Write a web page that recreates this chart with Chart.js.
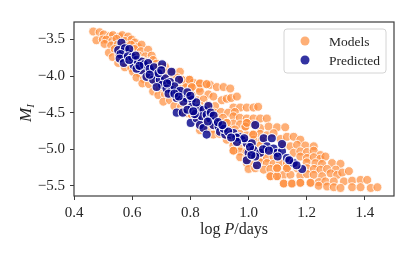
<!DOCTYPE html>
<html>
<head>
<meta charset="utf-8">
<script src="https://cdn.jsdelivr.net/npm/chart.js@4/dist/chart.umd.min.js"></script>
<style>
  html, body { margin: 0; padding: 0; background: #fff; }
  #wrap { width: 416px; height: 257px; }
</style>
</head>
<body>
<div id="wrap"><canvas id="chart" width="416" height="257"></canvas></div>
<script>
/* ── Data ──────────────────────────────────────────────────── */

const xTicks = [0.4, 0.6, 0.8, 1.0, 1.2, 1.4];
const yTicks = [-3.5, -4.0, -4.5, -5.0, -5.5];

// Models grid, roughly row by row from top-left to bottom-right
const modelsLogP = [
  0.466, 0.488,
  0.502, 0.524, 0.534, 0.556, 0.566, 0.586,
  0.477, 0.499, 0.511, 0.532, 0.546, 0.575, 0.598, 0.609,
  0.505, 0.528, 0.550, 0.573, 0.596, 0.620, 0.632,
  0.520, 0.540, 0.563, 0.586, 0.608, 0.630, 0.655,
  0.533, 0.555, 0.577, 0.600, 0.622, 0.645, 0.667,
  0.552, 0.567, 0.590, 0.612, 0.635, 0.658, 0.672, 0.684,
  0.575, 0.597, 0.620, 0.643, 0.666, 0.690, 0.713,
  0.603, 0.625, 0.648, 0.670, 0.694, 0.716, 0.740, 0.764,
  0.615, 0.640, 0.663, 0.686, 0.709, 0.732, 0.755, 0.770, 0.797,
  0.635, 0.658, 0.680, 0.703, 0.726, 0.749, 0.778, 0.810, 0.833, 0.856, 0.868,
  0.672, 0.695, 0.718, 0.740, 0.763, 0.785, 0.805, 0.830, 0.891, 0.914, 0.937,
  0.690, 0.713, 0.736, 0.758, 0.780, 0.805, 0.833, 0.862, 0.879,
  0.707, 0.730, 0.753, 0.776, 0.800, 0.823, 0.845, 0.908, 0.925, 0.940, 0.960,
  0.745, 0.768, 0.790, 0.813, 0.836, 0.860, 0.885, 0.948, 0.971, 0.994, 1.017, 1.033,
  0.770, 0.792, 0.815, 0.838, 0.860, 0.883, 0.905, 0.930, 0.953,
  0.805, 0.820, 0.843, 0.866, 0.889, 0.912, 0.948, 0.970, 0.994, 1.017, 1.040, 1.063,
  0.833, 0.856, 0.879, 0.902, 0.925, 0.948, 0.971, 0.994, 1.017,
  0.833, 0.860, 0.883, 0.906, 0.930, 0.953, 0.989, 1.040, 1.069, 1.098, 1.126,
  0.879, 0.900, 0.923, 0.946, 0.970, 0.993, 1.016, 1.040, 1.063, 1.086,
  0.925, 0.948, 0.970, 0.994, 1.017, 1.045, 1.110, 1.132, 1.155, 1.178,
  0.948, 0.971, 0.994, 1.017, 1.040, 1.120, 1.144, 1.167, 1.195, 1.224,
  0.948, 0.970, 0.993, 1.016, 1.040, 1.063, 1.155, 1.178, 1.201, 1.224, 1.247,
  0.971, 0.994, 1.017, 1.040, 1.063, 1.086, 1.178, 1.201, 1.224, 1.247, 1.264,
  0.994, 1.017, 1.040, 1.063, 1.086, 1.109, 1.132, 1.200, 1.230, 1.253, 1.287, 1.316,
  1.000, 1.023, 1.052, 1.075, 1.098, 1.132, 1.167, 1.201, 1.225, 1.247, 1.270, 1.300,
  1.075, 1.098, 1.121, 1.144, 1.178, 1.201, 1.224, 1.253, 1.282, 1.305, 1.322, 1.345,
  1.121, 1.149, 1.178, 1.213, 1.241, 1.264, 1.293, 1.328, 1.356, 1.385, 1.408,
  1.241, 1.270, 1.293, 1.316, 1.356, 1.385, 1.420, 1.443,
  // repeated models (show darker)
  1.121, 1.149, 1.178, 1.213, 1.075, 1.098, 0.770, 0.797, 0.833, 0.805,
  0.989, 0.925, 0.994, 0.948, 1.132, 1.098, 0.856, 1.016
];
const modelsMI = [
  -3.39, -3.40,
  -3.43, -3.45, -3.44, -3.46, -3.44, -3.46,
  -3.51, -3.50, -3.50, -3.52, -3.49, -3.52, -3.50, -3.54,
  -3.56, -3.58, -3.57, -3.58, -3.57, -3.60, -3.57,
  -3.68, -3.63, -3.64, -3.65, -3.63, -3.66, -3.64,
  -3.74, -3.72, -3.73, -3.71, -3.72, -3.73, -3.72,
  -3.82, -3.79, -3.80, -3.81, -3.79, -3.80, -3.78, -3.83,
  -3.88, -3.89, -3.87, -3.88, -3.89, -3.87, -3.87,
  -3.94, -3.96, -3.95, -3.94, -3.96, -3.95, -3.95, -3.94,
  -4.02, -4.04, -4.03, -4.02, -4.04, -4.03, -4.02, -4.05, -4.05,
  -4.10, -4.11, -4.09, -4.11, -4.10, -4.11, -4.10, -4.09, -4.10, -4.11, -4.12,
  -4.21, -4.17, -4.18, -4.16, -4.17, -4.15, -4.15, -4.17, -4.15, -4.15, -4.17,
  -4.26, -4.25, -4.24, -4.26, -4.24, -4.26, -4.21, -4.25, -4.28,
  -4.35, -4.33, -4.32, -4.34, -4.32, -4.33, -4.32, -4.33, -4.31, -4.30, -4.28,
  -4.41, -4.42, -4.40, -4.42, -4.41, -4.40, -4.41, -4.43, -4.43, -4.43, -4.43, -4.42,
  -4.49, -4.51, -4.50, -4.49, -4.51, -4.50, -4.49, -4.50, -4.49,
  -4.53, -4.58, -4.57, -4.58, -4.56, -4.57, -4.55, -4.57, -4.58, -4.58, -4.58, -4.58,
  -4.66, -4.64, -4.65, -4.66, -4.64, -4.65, -4.66, -4.64, -4.66,
  -4.74, -4.72, -4.73, -4.71, -4.72, -4.73, -4.69, -4.71, -4.69, -4.70, -4.70,
  -4.80, -4.79, -4.81, -4.80, -4.79, -4.81, -4.80, -4.79, -4.81, -4.78,
  -4.87, -4.88, -4.86, -4.88, -4.87, -4.88, -4.86, -4.83, -4.83, -4.87,
  -4.95, -4.96, -4.94, -4.96, -4.95, -4.95, -4.96, -4.94, -4.95, -4.96,
  -5.02, -5.03, -5.04, -5.02, -5.03, -5.04, -5.05, -5.03, -5.04, -5.02, -5.08,
  -5.11, -5.12, -5.10, -5.11, -5.12, -5.10, -5.10, -5.12, -5.11, -5.13, -5.10,
  -5.19, -5.20, -5.18, -5.19, -5.20, -5.18, -5.19, -5.18, -5.19, -5.20, -5.19, -5.20,
  -5.27, -5.26, -5.28, -5.27, -5.26, -5.26, -5.26, -5.26, -5.27, -5.28, -5.27, -5.28,
  -5.37, -5.37, -5.35, -5.35, -5.36, -5.34, -5.35, -5.37, -5.33, -5.35, -5.32, -5.30,
  -5.47, -5.47, -5.46, -5.46, -5.45, -5.44, -5.44, -5.44, -5.43, -5.42, -5.42,
  -5.50, -5.51, -5.52, -5.53, -5.52, -5.52, -5.53, -5.52,
  -5.47, -5.47, -5.46, -5.46, -5.37, -5.37, -4.05, -4.05, -4.10, -4.15,
  -4.69, -4.64, -4.64, -5.02, -5.26, -5.26, -4.11, -4.80
];

const predLogP = [
  0.563, 0.552, 0.569, 0.586, 0.575, 0.590, 0.560, 0.580, 0.598, 0.557,
  0.571, 0.585, 0.600, 0.605, 0.621, 0.615, 0.632, 0.649, 0.632, 0.615,
  0.640, 0.655, 0.667, 0.684, 0.649, 0.660, 0.675, 0.703, 0.672, 0.695,
  0.713, 0.690, 0.700, 0.730, 0.703, 0.684, 0.718, 0.735, 0.753, 0.770,
  0.735, 0.761, 0.745, 0.725, 0.787, 0.805, 0.753, 0.776, 0.765, 0.790,
  0.805, 0.828, 0.845, 0.862, 0.820, 0.800, 0.753, 0.774, 0.801, 0.822,
  0.839, 0.856, 0.868, 0.885, 0.833, 0.845, 0.856, 0.879, 0.897, 0.902,
  0.920, 0.937, 0.948, 0.966, 0.977, 0.994, 1.011, 1.023, 1.000, 1.017,
  0.994, 1.029, 1.052, 1.080, 1.063, 1.086, 1.098, 1.115, 1.115, 1.132,
  1.155, 1.184, 1.040, 1.023, 0.915, 0.930, 0.958, 0.985, 0.870, 0.880,
  0.895, 0.910, 0.860, 0.815, 0.790, 0.810, 1.005, 1.050, 1.070, 1.010,
  1.100, 1.140, 1.165, 0.960, 0.940, 0.720, 0.745, 0.760, 0.660, 0.625,
  0.590, 0.612
];
const predMI = [
  -3.545, -3.645, -3.67, -3.69, -3.62, -3.63, -3.70, -3.76, -3.80, -3.76,
  -3.82, -3.73, -3.74, -3.85, -3.83, -3.78, -3.80, -3.87, -3.92, -3.90,
  -3.84, -3.82, -3.94, -3.99, -4.01, -3.90, -3.88, -3.84, -4.05, -4.05,
  -4.03, -3.96, -3.92, -4.08, -4.12, -4.15, -4.17, -4.19, -4.21, -4.26,
  -3.94, -4.05, -4.14, -4.24, -4.30, -4.32, -4.30, -4.35, -4.20, -4.22,
  -4.42, -4.44, -4.46, -4.41, -4.36, -4.27, -4.50, -4.50, -4.64, -4.58,
  -4.55, -4.53, -4.58, -4.62, -4.67, -4.71, -4.80, -4.67, -4.69, -4.76,
  -4.80, -4.80, -4.78, -4.83, -4.87, -4.92, -4.92, -4.67, -5.05, -5.01,
  -5.15, -5.22, -4.85, -4.85, -4.96, -4.99, -5.05, -5.03, -4.93, -5.12,
  -5.19, -5.27, -5.05, -5.10, -4.72, -4.76, -4.84, -4.85, -4.50, -4.54,
  -4.63, -4.67, -4.62, -4.52, -4.46, -4.48, -4.97, -5.00, -5.02, -5.08,
  -5.10, -5.15, -5.22, -4.90, -4.84, -4.10, -4.24, -4.28, -3.98, -3.86,
  -3.78, -3.72
];

/* ── Helpers ────────────────────────────────────────────────── */

const SERIF = "'Liberation Serif', 'Times New Roman', serif";
const toPoints = (xs, ys) => xs.map((x, i) => ({ x, y: ys[i] }));
const fmtTick = v => Number(v).toFixed(1).replace("-", "\u2212");

// draw a line of text made of runs with different fonts, centred on cx
function drawRuns(ctx, runs, cx, y) {
  let total = 0;
  runs.forEach(r => { ctx.font = r.font; r.w = ctx.measureText(r.text).width; total += r.w; });
  let x = cx - total / 2;
  runs.forEach(r => {
    ctx.font = r.font;
    ctx.fillText(r.text, x, y + (r.dy || 0));
    x += r.w;
  });
}

/* ── Frame, axis titles and legend ─────────────────────────── */

const decorations = {
  id: "decorations",
  afterDatasetsDraw(chart) {
    const { ctx, chartArea: a } = chart;
    ctx.save();

    // box round the plot
    ctx.strokeStyle = "#3d3d3d";
    ctx.lineWidth = 1.2;
    ctx.strokeRect(a.left, a.top, a.right - a.left, a.bottom - a.top);

    // x title: log P/days
    ctx.fillStyle = "#262626";
    ctx.textBaseline = "alphabetic";
    drawRuns(ctx, [
      { text: "log ", font: `16px ${SERIF}` },
      { text: "P", font: `italic 16px ${SERIF}` },
      { text: "/days", font: `16px ${SERIF}` },
    ], (a.left + a.right) / 2, 234);

    // y title: M_I, rotated
    ctx.save();
    ctx.translate(25, (a.top + a.bottom) / 2 + 4);
    ctx.rotate(-Math.PI / 2);
    drawRuns(ctx, [
      { text: "M", font: `italic 17px ${SERIF}` },
      { text: "I", font: `italic 11px ${SERIF}`, dy: 3 },
    ], 0, 6);
    ctx.restore();

    // legend
    const lx = 284, ly = 29, lw = 102, lh = 44;
    ctx.beginPath();
    ctx.roundRect(lx, ly, lw, lh, 3);
    ctx.fillStyle = "rgba(255,255,255,0.85)";
    ctx.fill();
    ctx.strokeStyle = "#d4d4d4";
    ctx.lineWidth = 1;
    ctx.stroke();

    const items = chart.data.datasets.slice().sort((p, q) => q.order - p.order);
    items.forEach((ds, i) => {
      const cy = 41 + i * 19;
      ctx.beginPath();
      ctx.arc(305, cy, 4.5, 0, Math.PI * 2);
      ctx.fillStyle = ds.backgroundColor;
      ctx.fill();
      ctx.fillStyle = "#262626";
      ctx.font = `13.5px ${SERIF}`;
      ctx.textBaseline = "middle";
      ctx.fillText(ds.label, 329, cy + 1);
    });

    ctx.restore();
  },
};

/* ── Chart ──────────────────────────────────────────────────── */

const tickFont = { family: SERIF, size: 15 };

new Chart(document.getElementById("chart"), {
  type: "scatter",
  data: {
    datasets: [
      {
        label: "Models",
        data: toPoints(modelsLogP, modelsMI),
        backgroundColor: "rgba(253,141,60,0.7)",
        borderColor: "rgba(255,255,255,0.85)",
        borderWidth: 1,
        pointRadius: 4.5,
        order: 2,
      },
      {
        label: "Predicted",
        data: toPoints(predLogP, predMI),
        backgroundColor: "rgba(0,0,139,0.8)",
        borderColor: "rgba(255,255,255,0.95)",
        borderWidth: 1.1,
        pointRadius: 4.6,
        order: 1,
      },
    ],
  },
  options: {
    responsive: false,
    devicePixelRatio: 1,
    animation: false,
    events: [],
    layout: { padding: { left: 0, right: 22, top: 22, bottom: 0 } },
    plugins: { legend: { display: false }, tooltip: { enabled: false } },
    scales: {
      x: {
        type: "linear",
        min: 0.4, max: 1.5,
        afterBuildTicks: s => { s.ticks = xTicks.map(v => ({ value: v })); },
        afterFit: s => { s.height = 61; },
        ticks: { font: tickFont, color: "#262626", padding: 4, maxRotation: 0, autoSkip: false, callback: fmtTick },
        grid: { drawOnChartArea: false, tickLength: 4, tickColor: "#3d3d3d", tickWidth: 1 },
        border: { display: false },
      },
      y: {
        type: "linear",
        min: -5.64, max: -3.26,
        afterBuildTicks: s => { s.ticks = yTicks.map(v => ({ value: v })); },
        afterFit: s => { s.width = 74; },
        ticks: { font: tickFont, color: "#262626", padding: 5, autoSkip: false, callback: fmtTick },
        grid: { drawOnChartArea: false, tickLength: 4, tickColor: "#3d3d3d", tickWidth: 1 },
        border: { display: false },
      },
    },
  },
  plugins: [decorations],
});
</script>
</body>
</html>
